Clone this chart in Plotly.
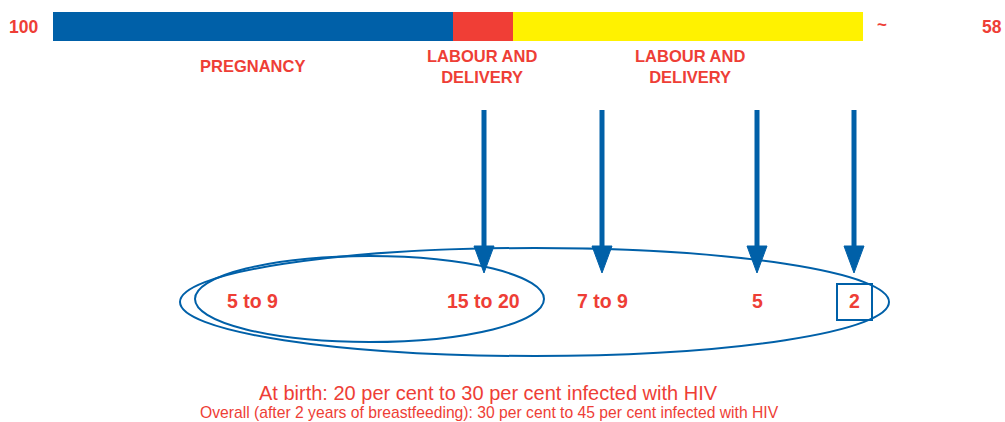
import numpy as np
import plotly.graph_objects as go

# timeline segments (diagram units, one unit = one pixel on the page)
stages = ["Pregnancy", "Labour and delivery", "Breastfeeding"]
stage_lengths = [400, 60, 350]
stage_colors = ["#0060A8", "#F03E36", "#FFF200"]

scale_left = "100"
scale_right = "58"

# transmission rates (per cent) shown inside the ellipses
rate_labels = ["5 to 9", "15 to 20", "7 to 9", "5", "2"]

# captions
stage_captions = ["PREGNANCY", "LABOUR AND<br>DELIVERY", "LABOUR AND<br>DELIVERY"]
caption_main = "At birth: 20 per cent to 30 per cent infected with HIV"
caption_sub = "Overall (after 2 years of breastfeeding): 30 per cent to 45 per cent infected with HIV"

# layout helpers
BLUE = "#0060A8"
RED = "#EE3E36"
FONT = "Liberation Sans, Arial, sans-serif"
bar_start = 53
bar_y = 26.5
rate_x = [252, 483, 602, 757, 854]
rate_y = 301
arrow_x = [484, 602, 757, 854]
caption_x = [252, 482, 690]

fig = go.Figure()

bases = bar_start + np.concatenate([[0], np.cumsum(stage_lengths)[:-1]])
fig.add_trace(go.Bar(
    x=stage_lengths, base=bases, y=[bar_y] * len(stages),
    orientation="h", width=29, marker=dict(color=stage_colors, line=dict(width=0)),
    hovertext=stages, hoverinfo="text", showlegend=False,
))

shapes = []
# ellipses
shapes.append(dict(type="circle", x0=180, x1=889, y0=248, y1=356,
                   line=dict(color=BLUE, width=2)))
shapes.append(dict(type="circle", x0=195, x1=544, y0=256, y1=342,
                   line=dict(color=BLUE, width=2)))
# box around last value
shapes.append(dict(type="rect", x0=837, x1=872, y0=284, y1=320,
                   line=dict(color=BLUE, width=2)))
# arrows
for ax in arrow_x:
    shapes.append(dict(type="line", x0=ax, x1=ax, y0=110, y1=250,
                       line=dict(color=BLUE, width=5)))
    shapes.append(dict(type="path",
                       path=f"M {ax-10},246 L {ax+10},246 L {ax},273 Z",
                       fillcolor=BLUE, line=dict(color=BLUE, width=1)))

annotations = []
txt = dict(showarrow=False, xref="x", yref="y", xanchor="center", yanchor="middle")
annotations.append(dict(x=23, y=bar_y, text=f"<b>{scale_left}</b>",
                        font=dict(family=FONT, size=17.5, color=RED), **txt))
annotations.append(dict(x=882, y=bar_y - 2, text="<b>~</b>",
                        font=dict(family=FONT, size=17, color=RED), **txt))
annotations.append(dict(x=992, y=bar_y, text=f"<b>{scale_right}</b>",
                        font=dict(family=FONT, size=17.5, color=RED), **txt))
for cx, cap in zip(caption_x, stage_captions):
    annotations.append(dict(x=cx, y=66, text=f"<b>{cap}</b>",
                            font=dict(family=FONT, size=16.5, color=RED), **txt))
for rx, lab in zip(rate_x, rate_labels):
    annotations.append(dict(x=rx, y=rate_y, text=f"<b>{lab}</b>",
                            font=dict(family=FONT, size=19.5, color=RED), **txt))
annotations.append(dict(x=488, y=393, text=caption_main,
                        font=dict(family=FONT, size=20, color=RED), **txt))
annotations.append(dict(x=489, y=412, text=caption_sub,
                        font=dict(family=FONT, size=15.7, color=RED), **txt))

fig.update_layout(
    width=1005, height=422,
    margin=dict(l=0, r=0, t=0, b=0),
    paper_bgcolor="white", plot_bgcolor="white",
    xaxis=dict(range=[0, 1005], visible=False, fixedrange=True),
    yaxis=dict(range=[422, 0], visible=False, fixedrange=True),
    shapes=shapes, annotations=annotations,
    bargap=0, showlegend=False,
)

fig.write_html("out.html", config={"displayModeBar": False},
               post_script="document.body.style.margin='0';")
